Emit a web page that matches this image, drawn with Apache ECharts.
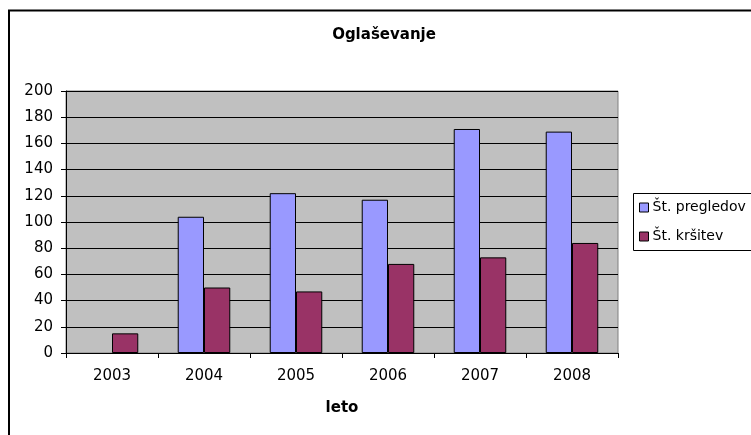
<!DOCTYPE html>
<html>
<head>
<meta charset="utf-8">
<script src="https://cdn.jsdelivr.net/npm/echarts@6/dist/echarts.min.js"></script>
<style>
html,body{margin:0;padding:0;background:#fff;}
#c{width:751px;height:435px;}
</style>
</head>
<body>
<div id="c"></div>
<script>
const titleText = 'Oglaševanje';
const xName = 'leto';
const categories = ['2003', '2004', '2005', '2006', '2007', '2008'];
const seriesNames = ['Št. pregledov', 'Št. kršitev'];
const pregledov = [null, 104, 122, 117, 171, 169];
const krsitev = [15, 50, 47, 68, 73, 84];
const yTicks = [0, 20, 40, 60, 80, 100, 120, 140, 160, 180, 200];

const FONT = 'DejaVu Sans';
const chart = echarts.init(document.getElementById('c'), null, {renderer: 'canvas'});
chart.setOption({
  backgroundColor: '#ffffff',
  animation: false,
  textStyle: {fontFamily: FONT, color: '#000'},
  title: {
    text: titleText,
    left: 384, top: 28, textAlign: 'center', padding: 0,
    textStyle: {fontFamily: FONT, fontSize: 15, fontWeight: 'bold', color: '#000'}
  },
  graphic: [
    {type: 'rect', z: -1, shape: {x: 9, y: 10.5, width: 800, height: 500},
     style: {fill: 'none', stroke: '#000', lineWidth: 2}},
    {type: 'rect', z: 1, shape: {x: 633.5, y: 193.5, width: 200, height: 57},
     style: {fill: '#fff', stroke: '#000', lineWidth: 1}}
  ],
  legend: {
    orient: 'vertical',
    left: 639, top: 200,
    padding: 0,
    itemGap: 14,
    itemWidth: 9, itemHeight: 9,
    icon: 'rect',
    z: 5,
    textStyle: {fontFamily: FONT, fontSize: 14, color: '#000', lineHeight: 15, padding: [0, 0, 0, -1]},
    data: seriesNames.map(n => ({name: n, itemStyle: {borderColor: '#000', borderWidth: 1}}))
  },
  grid: {
    left: 66, right: 133, top: 91, bottom: 82,
    show: true, backgroundColor: '#C0C0C0', borderColor: '#808080', borderWidth: 1
  },
  xAxis: {
    type: 'category',
    data: categories,
    name: xName,
    nameLocation: 'middle',
    nameGap: 48,
    nameTextStyle: {fontFamily: FONT, fontSize: 15, fontWeight: 'bold', color: '#000', verticalAlign: 'top'},
    axisLine: {lineStyle: {color: '#000', width: 1}},
    axisTick: {show: true, length: 5, lineStyle: {color: '#000'}},
    axisLabel: {fontFamily: FONT, fontSize: 15, color: '#000', margin: 16}
  },
  yAxis: {
    type: 'value',
    min: yTicks[0], max: yTicks[yTicks.length - 1], interval: 20,
    axisLine: {show: true, lineStyle: {color: '#000', width: 1}},
    axisTick: {show: true, length: 5, lineStyle: {color: '#000'}},
    axisLabel: {fontFamily: FONT, fontSize: 15, color: '#000', margin: 13},
    splitLine: {show: true, lineStyle: {color: '#000', width: 1}}
  },
  series: [
    {name: seriesNames[0], type: 'bar', data: pregledov, barGap: '0%', barCategoryGap: '42.9%',
     itemStyle: {color: '#9999FF', borderColor: '#000', borderWidth: 1}},
    {name: seriesNames[1], type: 'bar', data: krsitev, barGap: '0%', barCategoryGap: '42.9%',
     itemStyle: {color: '#993366', borderColor: '#000', borderWidth: 1}}
  ]
});
</script>
</body>
</html>
